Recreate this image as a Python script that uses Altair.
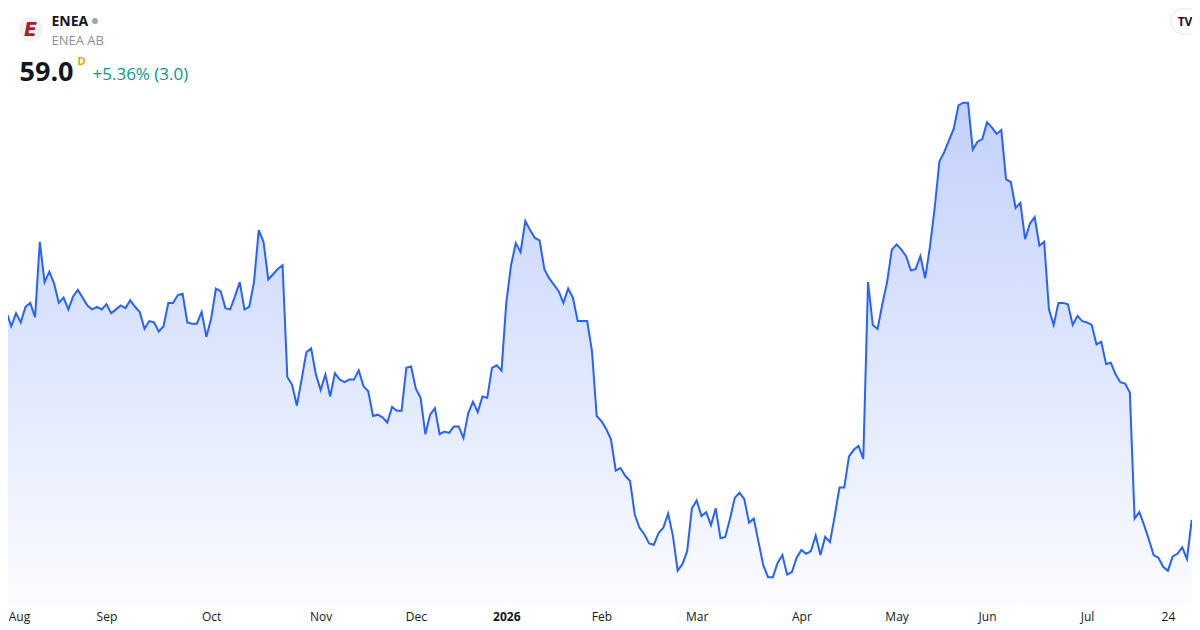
import altair as alt
import pandas as pd

# Daily closes (SEK), one per trading day
prices = [
    74.1, 75.0, 73.9, 74.9, 74.2, 75.4, 75.7, 74.6, 80.4, 77.3,
    78.1, 77.2, 75.7, 76.1, 75.2, 76.2, 76.7, 76.1, 75.5, 75.2,
    75.4, 75.2, 75.6, 74.9, 75.2, 75.5, 75.3, 75.9, 75.4, 75.0,
    73.7, 74.3, 74.2, 73.5, 73.9, 75.7, 75.7, 76.3, 76.4, 74.2,
    74.1, 74.1, 75.0, 73.1, 74.5, 76.8, 76.6, 75.3, 75.2, 76.2,
    77.3, 75.2, 75.4, 77.3, 81.3, 80.4, 77.5, 77.9, 78.3, 78.6,
    70.0, 69.4, 67.8, 69.8, 71.9, 72.2, 70.2, 69.0, 70.2, 68.5,
    70.3, 69.8, 69.6, 69.8, 69.8, 70.5, 69.3, 68.9, 67.0, 67.1,
    66.9, 66.5, 67.7, 67.4, 67.4, 70.7, 70.8, 69.1, 68.4, 65.6,
    67.1, 67.6, 65.6, 65.8, 65.7, 66.2, 66.2, 65.3, 67.2, 68.1,
    67.3, 68.5, 68.4, 70.7, 70.9, 70.5, 75.7, 78.6, 80.3, 79.6,
    82.0, 81.3, 80.7, 80.5, 78.3, 77.6, 77.1, 76.6, 75.7, 76.8,
    76.1, 74.3, 74.3, 74.3, 72.0, 67.0, 66.6, 66.0, 65.2, 62.8,
    63.0, 62.4, 62.0, 59.4, 58.4, 57.9, 57.2, 57.1, 58.0, 58.4,
    59.5, 57.8, 55.1, 55.6, 56.6, 59.9, 60.5, 59.3, 59.6, 58.6,
    59.9, 57.6, 57.7, 59.1, 60.7, 61.1, 60.6, 58.8, 59.1, 57.3,
    55.5, 54.6, 54.6, 55.7, 56.3, 54.8, 55.0, 56.1, 56.7, 56.4,
    56.6, 57.8, 56.3, 57.7, 57.3, 59.3, 61.5, 61.5, 63.9, 64.4,
    64.7, 63.7, 77.3, 74.0, 73.7, 75.6, 77.3, 79.8, 80.2, 79.8,
    79.3, 78.2, 78.3, 79.3, 77.6, 80.0, 83.0, 86.6, 87.3, 88.2,
    89.1, 90.9, 91.1, 91.1, 87.5, 88.1, 88.3, 89.6, 89.2, 88.7,
    89.0, 85.2, 85.0, 83.0, 83.4, 80.6, 81.8, 82.3, 80.1, 80.4,
    75.2, 74.0, 75.7, 75.7, 75.6, 74.0, 74.7, 74.3, 74.2, 74.0,
    72.5, 72.7, 71.0, 71.1, 70.2, 69.6, 69.5, 68.8, 59.1, 59.6,
    58.6, 57.5, 56.3, 56.1, 55.4, 55.1, 56.2, 56.4, 56.9, 56.0,
    59.0,
]

# x-axis ticks (trading-day index of first session of each month) and their labels
tick_index = [2, 22, 44, 67, 87, 106, 126, 146, 168, 188, 207, 228, 245]
tick_text = ["Aug", "Sep", "Oct", "Nov", "Dec", "2026", "Feb", "Mar", "Apr",
             "May", "Jun", "Jul", "24"]
bold_ticks = ["2026"]

ticker = "ENEA"
company = "ENEA AB"
last_price = "59.0"
interval = "D"
change_text = "+5.36% (3.0)"

df = pd.DataFrame({"i": list(range(len(prices))), "p": prices})

label_expr = "".join(
    f"datum.value == {v} ? '{t}' : " for v, t in zip(tick_index, tick_text)
) + "''"
bold_test = " || ".join(
    f"datum.value == {v}" for v, t in zip(tick_index, tick_text) if t in bold_ticks
)

FONT = "Open Sans"
W, H = 1184, 597
Y_MIN, Y_MAX = 52.46, 98.385

xscale = alt.Scale(domain=[1.32, 250.06], nice=False, zero=False)
yscale = alt.Scale(domain=[Y_MIN, Y_MAX], nice=False, zero=False)

x_axis = alt.Axis(
    values=tick_index,
    labelExpr=label_expr,
    grid=False,
    domain=False,
    ticks=False,
    tickSize=0,
    labelPadding=15,
    labelBaseline="alphabetic",
    labelFont=FONT,
    labelFontSize=12,
    labelColor="#131722",
    labelFontWeight={"condition": {"test": bold_test, "value": "bold"}, "value": "normal"},
    labelFlush=6,
    labelFlushOffset=3,
    labelOverlap=False,
    title=None,
)

base = alt.Chart(df)

area = base.mark_area(
    clip=True,
    fillOpacity=1,
    opacity=1,
    color=alt.Gradient(
        gradient="linear",
        stops=[
            alt.GradientStop(color="#c3d1fb", offset=0),
            alt.GradientStop(color="#dee6fd", offset=0.5),
            alt.GradientStop(color="#fbfcff", offset=1),
        ],
        x1=0, x2=0, y1=0, y2=1,
    ),
).encode(
    x=alt.X("i:Q", scale=xscale, axis=x_axis),
    y=alt.Y("p:Q", scale=yscale, axis=None),
    y2=alt.datum(Y_MIN),
)

line = base.mark_line(clip=True, color="#2962ff", strokeWidth=2).encode(
    x=alt.X("i:Q", scale=xscale),
    y=alt.Y("p:Q", scale=yscale),
)

one = pd.DataFrame({"k": [0]})


def txt(text, x, y, size, color, weight="normal", style="normal", align="left",
        baseline="alphabetic", font=FONT):
    return alt.Chart(one).mark_text(
        font=font, fontSize=size, color=color, fontWeight=weight,
        fontStyle=style, align=align, baseline=baseline,
    ).encode(x=alt.value(x), y=alt.value(y), text=alt.value(text))


logo_circle = alt.Chart(one).mark_point(
    shape="circle", filled=True, size=576, color="#eff2f8", opacity=1
).encode(x=alt.value(22.7), y=alt.value(21.3))
logo_e = txt("E", 22.5, 22, 19, "#b31b2b", weight="bold", style="italic",
             align="center", baseline="middle", font="DejaVu Sans")
dot = alt.Chart(one).mark_point(
    shape="circle", filled=True, size=36, color="#a3a6af", opacity=1
).encode(x=alt.value(87), y=alt.value(13))

t_ticker = txt(ticker, 43.5, 18, 14, "#131722", weight="bold")
t_company = txt(company, 43.5, 37, 13, "#8b8e97")
t_price = txt(last_price, 11.5, 72.5, 27, "#131722", weight="bold")
t_interval = txt(interval, 69.5, 57, 11, "#f59f00", weight="bold")
t_change = txt(change_text, 84.5, 72, 17, "#089981")

tv_box = alt.Chart(one).mark_rect(
    color="#ffffff", stroke="#e3e5ea", strokeWidth=1, cornerRadius=12
).encode(x=alt.value(1163), x2=alt.value(1200), y=alt.value(1), y2=alt.value(26))
tv_text = txt("TV", 1177, 13.5, 12, "#131722", weight="bold", align="center", baseline="middle")

chart = alt.layer(
    area, line, logo_circle, logo_e, dot, t_ticker, t_company,
    t_price, t_interval, t_change, tv_box, tv_text,
).properties(
    width=W,
    height=H,
    padding={"left": 0, "top": 0, "right": 0, "bottom": 20},
    autosize=alt.AutoSizeParams(type="none"),
    background="#ffffff",
).configure_view(strokeWidth=0)

chart.save("out.html", embed_options={"renderer": "svg", "actions": False})
